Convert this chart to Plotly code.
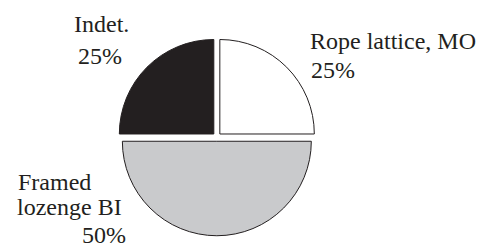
import plotly.graph_objects as go

labels = ["Rope lattice, MO", "Framed<br>lozenge BI", "Indet."]
values = [25, 50, 25]
colors = ["#ffffff", "#c9cacc", "#231f20"]

W, H = 484, 250
FONT = dict(family="Liberation Serif, Times New Roman, serif", size=24, color="#231f20")

fig = go.Figure(go.Pie(
    labels=labels, values=values, sort=False, direction="clockwise", rotation=0,
    marker=dict(colors=colors, line=dict(color="#231f20", width=1)),
    pull=[0.045] * 3, textinfo="none", hoverinfo="label+percent",
    showlegend=False,
    domain=dict(x=[0.244, 0.652], y=[0.057, 0.847]),
))

# label placement (pixel centers) for each line of the name and the percentage
name_pos = [[(393, 41)], [(54, 182), (69, 207)], [(101, 24)]]
pct_pos = [(333, 70), (104, 235), (100, 56)]
total = sum(values)
anns = []
for lab, v, npos, ppos in zip(labels, values, name_pos, pct_pos):
    for line, (px, py) in zip(lab.split("<br>"), npos):
        anns.append(dict(text=line, x=px / W, y=1 - py / H, xref="paper", yref="paper",
                         showarrow=False, xanchor="center", yanchor="middle", font=FONT))
    anns.append(dict(text=f"{round(100 * v / total)}%", x=ppos[0] / W, y=1 - ppos[1] / H,
                     xref="paper", yref="paper", showarrow=False,
                     xanchor="center", yanchor="middle", font=FONT))

fig.update_layout(width=W, height=H, margin=dict(l=0, r=0, t=0, b=0),
                  paper_bgcolor="white", plot_bgcolor="white", annotations=anns)
fig.write_html("out.html", config={"displayModeBar": False},
               post_script="document.body.style.margin='0';")
